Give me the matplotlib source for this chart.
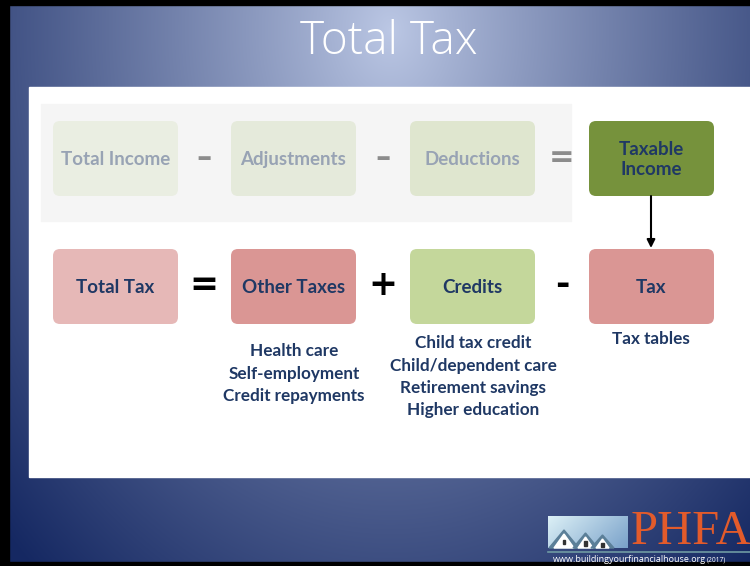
import numpy as np
import matplotlib
matplotlib.use("Agg")
import matplotlib.pyplot as plt
from matplotlib.patches import FancyBboxPatch, Rectangle, Polygon

# ---- content ----
title = "Total Tax"
top_labels = ["Total Income", "Adjustments", "Deductions", "Taxable\nIncome"]
top_ops = ["–", "–", "="]
bottom_labels = ["Total Tax", "Other Taxes", "Credits", "Tax"]
bottom_ops = ["=", "+", "-"]
other_taxes_items = ["Health care", "Self-employment", "Credit repayments"]
credits_items = ["Child tax credit", "Child/dependent care", "Retirement savings", "Higher education"]
tax_items = ["Tax tables"]
logo_text = "PHFA"
url_text = "www.buildingyourfinancialhouse.org"
url_year = "(2017)"

# ---- styles ----
top_face = ["#eaeee2", "#e5eadb", "#dfe6cf", "#76923c"]
top_text = ["#98a3b4", "#98a3b4", "#98a3b4", "#1f3864"]
bot_face = ["#e6b8b7", "#da9694", "#c4d79b", "#da9694"]
navy = "#1f3864"

W, H = 750, 566
fig = plt.figure(figsize=(W / 100, H / 100), dpi=100)
ax = fig.add_axes([0, 0, 1, 1])
ax.set_xlim(0, W)
ax.set_ylim(H, 0)
ax.axis("off")

# background gradient
yy, xx = np.mgrid[0:H, 0:W]
d = np.sqrt(((xx - 390) / 450.0) ** 2 + ((yy - 30) / 600.0) ** 2)
t = np.clip(d / 1.2, 0, 1) ** 0.9
light = np.array([0xbc, 0xc8, 0xe5]) / 255
dark = np.array([0x15, 0x28, 0x62]) / 255
img = light[None, None, :] * (1 - t[..., None]) + dark[None, None, :] * t[..., None]
ax.imshow(img, extent=(0, W, H, 0), zorder=0, aspect="auto")

# black frame
ax.add_patch(Rectangle((0, 0), 9, H, color="black", zorder=1))
ax.add_patch(Rectangle((0, 0), W, 5, color="black", zorder=1))
ax.add_patch(Rectangle((0, 562), W, 4, color="black", zorder=1))

# title
ax.text(389, 42, title, color="white", fontsize=33, family="Open Sans",
        fontweight="light", ha="center", va="center", zorder=3)

# white panel and grey panel
ax.add_patch(Rectangle((29, 87), W - 29, 390, color="white", zorder=1))
ax.add_patch(Rectangle((41, 104), 530, 117, color="#f5f5f5", zorder=1))

xs = [53, 231, 410, 589]
bw, bh = 125, 75


def box(x, y, face, label, tcolor):
    p = FancyBboxPatch((x, y), bw, bh, boxstyle="round,pad=0,rounding_size=7",
                       facecolor=face, edgecolor="none", zorder=2)
    ax.add_patch(p)
    ax.text(x + bw / 2, y + bh / 2 + 1, label, color=tcolor, fontsize=13.5,
            family="Lato", fontweight="bold", ha="center", va="center",
            zorder=3, linespacing=1.2)


for x, f, lab, tc in zip(xs, top_face, top_labels, top_text):
    box(x, 121, f, lab, tc)
for x, f, lab in zip(xs, bot_face, bottom_labels):
    box(x, 249, f, lab, navy)

op_x = [204, 383, 562]
for x, o in zip(op_x, top_ops):
    ax.text(x, 158, o, color="#8c8c8c", fontsize=22, family="DejaVu Sans",
            fontweight="bold", ha="center", va="center", zorder=3)
for x, o in zip(op_x, bottom_ops):
    ax.text(x, 285, o, color="black", fontsize=25, family="DejaVu Sans",
            fontweight="bold", ha="center", va="center", zorder=3)

# arrow
ax.annotate("", xy=(651, 248), xytext=(651, 196),
            arrowprops=dict(arrowstyle="-|>", color="black", lw=1.5,
                            mutation_scale=12, shrinkA=0, shrinkB=0), zorder=3)

# lists
def item_list(cx, y0, items, step=22.5):
    for i, s in enumerate(items):
        ax.text(cx, y0 + i * step + 1, s, color=navy, fontsize=12.3, family="Lato",
                fontweight="bold", ha="center", va="center", zorder=3)


item_list(294, 350, other_taxes_items)
item_list(473, 342, credits_items)
item_list(651, 338, tax_items)

# logo
gx = np.linspace(0, 1, 80)[None, :]
gy = np.linspace(0, 1, 32)[:, None]
c1 = np.array([0xdc, 0xf0, 0xf6]) / 255
c2 = np.array([0x7a, 0xa2, 0xca]) / 255
tt = np.clip(0.7 * gx + 0.3 * gy, 0, 1)
logo = c1[None, None, :] * (1 - tt[..., None]) + c2[None, None, :] * tt[..., None]
ax.imshow(logo, extent=(548, 628, 548, 516), zorder=2, aspect="auto")
roof = "#5b7f98"
for (x0, w, h) in [(552, 24, 15), (576, 19, 12), (594, 17, 10)]:
    ax.add_patch(Polygon([(x0 - 3, 548), (x0 + w / 2, 548 - h - 3), (x0 + w + 3, 548)],
                         closed=True, color=roof, zorder=3))
    ax.add_patch(Polygon([(x0 + 2, 548), (x0 + w / 2, 548 - h + 1), (x0 + w - 2, 548)],
                         closed=True, color="white", zorder=3))
    ax.add_patch(Rectangle((x0 + w / 2 - 1.2, 548 - h * 0.55), 2.4, 4.5, color="#333333", zorder=4))
ax.text(691, 532, logo_text, color="#e35b2b", fontsize=35, family="Liberation Serif",
        ha="center", va="center", zorder=3)
ax.plot([548, 750], [552, 552], color="#6f9aa3", lw=1.2, zorder=3)
ax.text(553, 559.5, url_text, color="white", fontsize=6.5, family="Open Sans",
        ha="left", va="center", zorder=3)
ax.text(707, 560, url_year, color="white", fontsize=4.8, family="Open Sans",
        ha="left", va="center", zorder=3)

fig.savefig("out.png", dpi=100)
